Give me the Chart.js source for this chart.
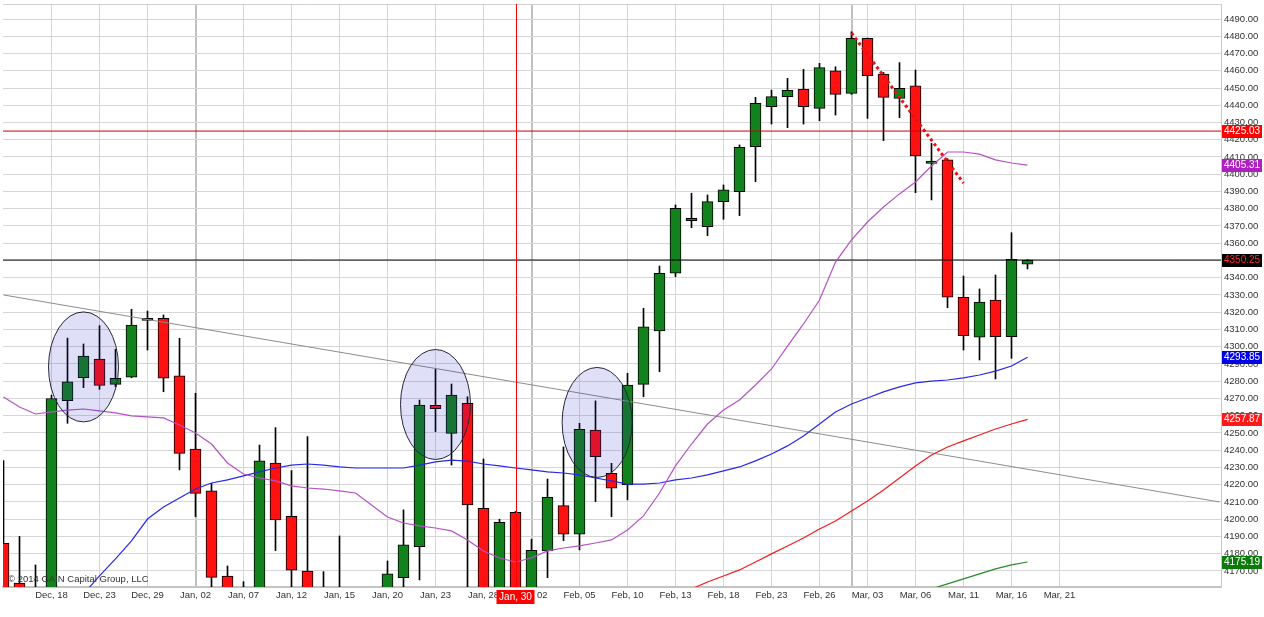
<!DOCTYPE html>
<html>
<head>
<meta charset="utf-8">
<script src="https://cdn.jsdelivr.net/npm/chart.js@4.4.1/dist/chart.umd.min.js"></script>
<style>
  html, body { margin: 0; padding: 0; background: #fff; }
  canvas { display: block; }
</style>
</head>
<body>
<canvas id="chart" width="1264" height="617"></canvas>
<script>
// trading days shown on the chart
const dates = [
  "Dec, 15", "Dec, 16", "Dec, 17", "Dec, 18", "Dec, 19", "Dec, 22", "Dec, 23", "Dec, 24", "Dec, 26", "Dec, 29", "Dec, 30", "Dec, 31",
  "Jan, 02", "Jan, 05", "Jan, 06", "Jan, 07", "Jan, 08", "Jan, 09", "Jan, 12", "Jan, 13", "Jan, 14", "Jan, 15", "Jan, 16",
  "Jan, 19", "Jan, 20", "Jan, 21", "Jan, 22", "Jan, 23", "Jan, 26", "Jan, 27", "Jan, 28", "Jan, 29", "Jan, 30",
  "Feb, 02", "Feb, 03", "Feb, 04", "Feb, 05", "Feb, 06", "Feb, 09", "Feb, 10", "Feb, 11", "Feb, 12", "Feb, 13",
  "Feb, 16", "Feb, 17", "Feb, 18", "Feb, 19", "Feb, 20", "Feb, 23", "Feb, 24", "Feb, 25", "Feb, 26", "Feb, 27",
  "Mar, 02", "Mar, 03", "Mar, 04", "Mar, 05", "Mar, 06", "Mar, 09", "Mar, 10", "Mar, 11", "Mar, 12", "Mar, 13", "Mar, 16", "Mar, 17",
];
// empty slots to the right of the last candle
const futureDates = ["", "Mar, 21", "", "", "", "", "", "", "", "", "", ""];

const opens = [
  4186, 4163, 4140, 4150, 4268.7, 4282.1, 4292.9, 4278.2, 4282.3, 4315.2, 4316.5, 4283.2,
  4240.6, 4216.4, 4167.1, 4152, 4145, 4232.6, 4201.7, 4170, 4150, 4142, 4148,
  4136, 4150, 4166.1, 4184.1, 4266, 4249.8, 4267.2, 4206.3, 4150, 4204,
  4155, 4181.6, 4207.9, 4191.3, 4251.7, 4226.6, 4219.9, 4278.2, 4309.1, 4342.6,
  4373.1, 4369.6, 4384.1, 4389.9, 4416, 4439.2, 4445, 4449.2, 4438.2, 4460,
  4446.9, 4478.8, 4458, 4444, 4451.3, 4406.3, 4408.3, 4328.7, 4305.5, 4327.1, 4305.8, 4347.8,
];
const highs = [
  4234, 4190, 4173.5, 4272, 4305, 4301.6, 4312.2, 4298.5, 4321.7, 4320.7, 4318.4, 4304.9,
  4273, 4220.8, 4172.9, 4163.8, 4243, 4253.1, 4228.2, 4247.9, 4169.6, 4190.3, 4158,
  4155, 4175.8, 4205.4, 4269.1, 4286.9, 4278.4, 4271, 4234.9, 4200, 4204.5,
  4188.4, 4223.3, 4241.9, 4255.6, 4268.6, 4232.4, 4284.6, 4322.3, 4346.8, 4382.2,
  4389, 4388, 4393.8, 4417, 4444.6, 4448.8, 4455.6, 4460.8, 4464.3, 4462.3,
  4482.6, 4479, 4459, 4464.7, 4460.4, 4417.9, 4409, 4341, 4333.5, 4341.6, 4366.1, 4350.5,
];
const lows = [
  4140, 4135, 4130, 4148, 4255.6, 4276.3, 4275.3, 4276.8, 4282, 4298.1, 4273.9, 4228.6,
  4201.5, 4158, 4135, 4120, 4140, 4181.8, 4158, 4140, 4130, 4125, 4120,
  4125, 4140, 4160, 4164.8, 4250.8, 4231.4, 4150, 4140, 4140, 4140,
  4145, 4166.1, 4187.6, 4182.2, 4210.2, 4201.5, 4211.2, 4271, 4285.5, 4340.6,
  4369, 4364.4, 4373.9, 4376, 4395.7, 4429.1, 4427, 4429.1, 4431, 4434.3,
  4446.3, 4432.4, 4419.5, 4432.8, 4389.3, 4385.1, 4322.6, 4298.1, 4292.3, 4281.3, 4293.3, 4345.1,
];
const closes = [
  4150, 4148, 4152, 4270, 4279.7, 4294.6, 4277.6, 4281.7, 4312.6, 4316.5, 4281.7, 4238.2,
  4215, 4166.3, 4150, 4140, 4233.8, 4199.6, 4170.4, 4152, 4140, 4150, 4135,
  4145, 4168.3, 4185.1, 4266.2, 4264.1, 4272, 4208.3, 4150, 4198.2, 4150,
  4182, 4212.7, 4191.4, 4252.1, 4236.3, 4218, 4277.8, 4311.6, 4342.6, 4380.3,
  4374.5, 4384.1, 4390.9, 4415.6, 4441.1, 4445, 4448.7, 4439.2, 4461.8, 4446.3,
  4478.8, 4457.1, 4444.6, 4449.8, 4410.6, 4407.7, 4328.7, 4306.4, 4325.9, 4305.8, 4350.7, 4350.25,
];

// moving averages (null where the line has not started)
const maBlue = [
  null, null, null,
  4137, 4146.8, 4156.7, 4167.1, 4177.0, 4187.4, 4200.1, 4207.1, 4212.3, 4217.5,
  4221.0, 4222.8, 4225.1, 4227.4, 4229.7, 4231.4, 4232.0, 4231.4, 4230.3, 4229.7,
  4229.7, 4229.7, 4229.7, 4231.4, 4233.2, 4234.3, 4233.7, 4232.0, 4230.9, 4229.7,
  4228.6, 4227.4, 4226.8, 4225.7, 4223.9, 4222.2, 4220.4, 4220.4, 4221.0, 4222.8,
  4223.9, 4225.7, 4228.0, 4230.3, 4233.8, 4237.8, 4242.5, 4248.3, 4255.2, 4262.2,
  4266.8, 4270.3, 4273.8, 4276.7, 4279.0, 4280.1, 4280.7, 4281.9, 4283.6, 4285.9,
  4288.8, 4293.85,
];
const maViolet = [
  4270.9, 4265.1, 4261.0, 4262.2, 4263.3, 4263.9, 4262.8, 4261.6, 4259.9, 4259.3,
  4258.7, 4254.6, 4250.0, 4243.6, 4232.6, 4226.2, 4223.9, 4222.2, 4219.3, 4218.1,
  4217.5, 4216.4, 4215.2, 4208.3, 4201.3, 4197.8, 4196.1, 4194.9, 4193.2, 4188.0,
  4181.6, 4177.5, 4175.2, 4177.5, 4181.6, 4183.3, 4184.5, 4186.2, 4188.0, 4193.8,
  4201.9, 4215.2, 4230.9, 4243.6, 4255.2, 4263.3, 4269.1, 4277.8, 4287.1, 4300.4,
  4313.2, 4327.1, 4349.1, 4361.9, 4372.3, 4381.0, 4388.6, 4395.5, 4404.8, 4412.9,
  4412.9, 4411.7, 4408.3, 4406.5, 4405.31,
];
const maRed = [
  null, null, null, null, null, null, null, null, null, null,
  null, null, null, null, null, null, null, null, null, null,
  null, null, null, null, null, null, null, null, null, null,
  null, null, null, null, null, null, null, null, null, null,
  null, null,
  4156.1, 4159.6, 4163.6, 4167.1, 4170.6, 4175.2, 4179.9, 4184.5, 4189.1, 4194.3,
  4199.0, 4204.8, 4210.6, 4217.0, 4223.9, 4230.9, 4237.2, 4241.9, 4245.4, 4248.8,
  4252.3, 4255.2, 4257.87,
];
const maGreen = [
  null, null, null, null, null, null, null, null, null, null,
  null, null, null, null, null, null, null, null, null, null,
  null, null, null, null, null, null, null, null, null, null,
  null, null, null, null, null, null, null, null, null, null,
  null, null, null, null, null, null, null, null, null, null,
  null, null, null, null, null, null, null, null,
  4159.6, 4162.5, 4165.4, 4168.3, 4171.2, 4173.5, 4175.19,
];

// drawn studies: [index, value] pairs
const resistance = 4425.03;
const crossIndex = 32;
const trendLine = [[0, 4330], [76, 4210]];
const dropLine = [[53, 4481.9], [60, 4394.9]];
const circles = [[5, 4288.3], [27, 4266.5], [37.1, 4256.1]];

const yMin = 4160.7, yMax = 4498.7, yStep = 10;
const xMin = -0.03125, xMax = 76.09375;

const GREEN = "#14821c";
const RED = "#ff1111";

const labels = dates.concat(futureDates);
const monthStarts = dates.map((d, i) => i > 0 && d.slice(0, 3) !== dates[i - 1].slice(0, 3) ? i : -1).filter(i => i >= 0);
const labelled = labels.map((l, i) => (i > 0 && i % 3 === 0 && l !== "") ? i : -1).filter(i => i >= 0);

const pts = arr => arr.map((v, i) => ({ x: i, y: v })).filter(p => p.y !== null);
const seg = pairs => pairs.map(([x, y]) => ({ x, y }));
const tickOf = c => (c.tick ? c.tick.value : null);

const overlay = {
  id: "overlay",
  beforeDatasetsDraw(chart) {
    const { ctx, chartArea: a } = chart;
    ctx.save();
    ctx.strokeStyle = "#d0d0d0";
    ctx.lineWidth = 1;
    ctx.beginPath();
    ctx.moveTo(a.left, a.top + 0.5);
    ctx.lineTo(a.right, a.top + 0.5);
    ctx.stroke();
    ctx.restore();
  },
  afterDatasetsDraw(chart) {
    const { ctx, chartArea: a, scales: { x, y } } = chart;
    ctx.save();
    ctx.beginPath();
    ctx.rect(a.left, a.top, a.right - a.left, a.bottom - a.top);
    ctx.clip();
    circles.forEach(([i, v]) => {
      ctx.beginPath();
      ctx.ellipse(x.getPixelForValue(i), y.getPixelForValue(v), 35, 55, 0, 0, Math.PI * 2);
      ctx.fillStyle = "rgba(40,40,200,0.15)";
      ctx.fill();
      ctx.strokeStyle = "#26263a";
      ctx.lineWidth = 1;
      ctx.stroke();
    });
    // crosshair on the Jan 30 candle
    const cx = Math.round(x.getPixelForValue(crossIndex)) + 0.5;
    ctx.strokeStyle = "#ff0000";
    ctx.lineWidth = 1;
    ctx.beginPath();
    ctx.moveTo(cx, a.top);
    ctx.lineTo(cx, a.bottom);
    ctx.stroke();
    ctx.restore();

    ctx.save();
    ctx.font = "9.5px Arial, 'Liberation Sans'";
    ctx.fillStyle = "#333";
    ctx.fillText("© 2014 GAIN Capital Group, LLC", 8, 582);
    ctx.restore();
  },
  afterDraw(chart) {
    const { ctx, chartArea: a, scales: { x, y } } = chart;
    const tags = [
      [resistance, "#ff0000", "#ffffff"],
      [maViolet[maViolet.length - 1], "#b01fc2", "#ffffff"],
      [closes[closes.length - 1], "#000000", "#ff2a2a"],
      [maBlue[maBlue.length - 1], "#0000e6", "#ffffff"],
      [maRed[maRed.length - 1], "#ff1a1a", "#ffffff"],
      [maGreen[maGreen.length - 1], "#0b7a0b", "#ffffff"],
    ];
    ctx.save();
    ctx.font = "10px Arial, 'Liberation Sans'";
    ctx.textBaseline = "middle";
    tags.forEach(([v, bg, fg]) => {
      const py = Math.round(y.getPixelForValue(v));
      ctx.fillStyle = bg;
      ctx.fillRect(a.right + 1, py - 6, 40, 13);
      ctx.fillStyle = fg;
      ctx.textAlign = "left";
      ctx.fillText(v.toFixed(2), a.right + 3, py + 0.5);
    });
    const px = x.getPixelForValue(crossIndex);
    ctx.fillStyle = "#ff0000";
    ctx.fillRect(px - 19, a.bottom + 3, 38, 14);
    ctx.fillStyle = "#ffffff";
    ctx.textAlign = "center";
    ctx.fillText(labels[crossIndex], px, a.bottom + 10);
    ctx.restore();
  },
};

const lineBase = { type: "line", pointRadius: 0, borderWidth: 1.2, fill: false, order: 1 };

new Chart(document.getElementById("chart"), {
  type: "bar",
  data: {
    datasets: [
      { ...lineBase, data: pts(maViolet), borderColor: "#b552c6" },
      { ...lineBase, data: pts(maBlue), borderColor: "#2828e6" },
      { ...lineBase, data: pts(maRed), borderColor: "#f01c1c" },
      { ...lineBase, data: pts(maGreen), borderColor: "#2a8a2a" },
      { ...lineBase, data: seg(trendLine), borderColor: "#8c8c8c", borderWidth: 1, order: 2 },
      { ...lineBase, data: seg([[xMin, resistance], [xMax, resistance]]), borderColor: "#d00000", borderWidth: 1, order: 2 },
      { ...lineBase, data: seg([[xMin, closes[closes.length - 1]], [xMax, closes[closes.length - 1]]]), borderColor: "#000000", borderWidth: 1, order: 2 },
      { ...lineBase, data: seg(dropLine), borderColor: "#e81010", borderWidth: 3, borderDash: [3, 3], order: 2 },
      {
        type: "bar",
        data: opens.map((o, i) => ({ x: i, y: [o, closes[i]] })),
        backgroundColor: closes.map((c, i) => c >= opens[i] ? GREEN : RED),
        borderColor: "#000000",
        borderWidth: 1,
        borderSkipped: false,
        barThickness: 11,
        grouped: false,
        clip: 0,
        order: 5,
      },
      {
        type: "bar",
        data: highs.map((h, i) => ({ x: i, y: [lows[i], h] })),
        backgroundColor: "#000000",
        barThickness: 1,
        grouped: false,
        clip: 0,
        order: 6,
      },
    ],
  },
  options: {
    responsive: false,
    animation: false,
    layout: { padding: { left: 3, top: 4, right: 0, bottom: 0 } },
    plugins: { legend: { display: false }, tooltip: { enabled: false } },
    scales: {
      x: {
        type: "linear",
        position: "bottom",
        min: xMin,
        max: xMax,
        offset: false,
        afterBuildTicks: s => {
          s.ticks = [...new Set(labelled.concat(monthStarts))].sort((a, b) => a - b).map(v => ({ value: v }));
        },
        afterFit: s => { s.height = 30; s.paddingLeft = 0; s.paddingRight = 0; },
        ticks: {
          autoSkip: false,
          maxRotation: 0,
          padding: 3,
          color: "#333",
          font: { family: "Arial, 'Liberation Sans'", size: 9.5 },
          callback: v => labelled.includes(v) ? labels[v] : "",
        },
        grid: {
          offset: false,
          drawTicks: false,
          color: c => monthStarts.includes(tickOf(c)) ? "#c0c0c0" : "#d6d6d6",
          lineWidth: c => monthStarts.includes(tickOf(c)) ? 2 : 1,
        },
        border: { color: "#c4c4c4", width: 2 },
      },
      y: {
        position: "right",
        min: yMin,
        max: yMax,
        beginAtZero: false,
        afterFit: s => { s.width = 43; s.paddingTop = 0; s.paddingBottom = 0; },
        ticks: {
          stepSize: yStep,
          includeBounds: false,
          padding: 3,
          color: "#333",
          font: { family: "Arial, 'Liberation Sans'", size: 9.5 },
          callback: v => v.toFixed(2),
        },
        grid: { drawTicks: false, color: "#d6d6d6", lineWidth: 1 },
        border: { color: "#c8c8c8", width: 1 },
      },
    },
  },
  plugins: [overlay],
});
</script>
</body>
</html>
